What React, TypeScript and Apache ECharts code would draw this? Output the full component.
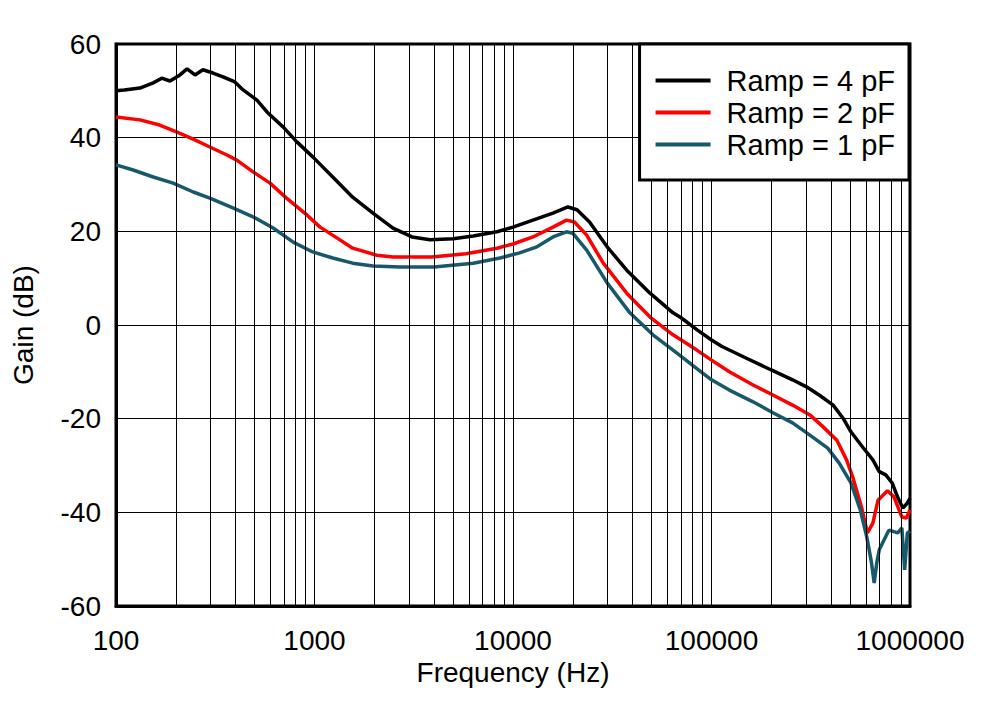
import React, { useEffect, useRef } from "react";
import * as echarts from "echarts";

const FONT = "'Liberation Sans', Arial, sans-serif";

const seriesNames = ["Ramp = 4 pF", "Ramp = 2 pF", "Ramp = 1 pF"];
const seriesColors = ["#000000", "#ff0000", "#17596b"];

const ramp4: [number, number][] = [
  [100, 50.0], [110, 50.2], [132, 50.6], [154, 51.7], [170, 52.7], [187, 52.1],
  [210, 53.4], [228, 54.7], [250, 53.4], [274, 54.5], [308, 53.8], [346, 53.0],
  [397, 51.9], [437, 50.2], [513, 48.0], [576, 45.5], [694, 42.3], [815, 39.1],
  [980, 35.9], [1236, 31.6], [1557, 27.3], [1970, 23.9], [2485, 20.7], [3100, 18.8],
  [3824, 18.2], [5000, 18.4], [6300, 19.0], [8300, 19.9], [10000, 20.9], [12600, 22.4],
  [15900, 23.9], [18900, 25.2], [21000, 24.6], [24300, 22.0], [29800, 16.7],
  [37400, 11.7], [49000, 6.8], [64000, 2.6], [70000, 1.6], [85000, -1.1],
  [100000, -3.2], [113000, -4.6], [150000, -7.1], [200000, -9.6], [256000, -11.7],
  [301000, -13.2], [350000, -15.0], [410000, -17.1], [460000, -19.9], [504000, -22.8],
  [578000, -26.1], [650000, -28.8], [700000, -31.3], [755000, -32.0], [815000, -33.8],
  [867000, -36.8], [920000, -39.1], [970000, -38.0], [1000000, -37.0],
];

const ramp2: [number, number][] = [
  [100, 44.4], [132, 43.8], [166, 42.7], [203, 41.2], [245, 39.7], [297, 38.0],
  [362, 36.3], [406, 35.2], [490, 32.7], [597, 30.3], [723, 27.1], [915, 23.5],
  [1067, 20.9], [1296, 18.6], [1557, 16.4], [2060, 14.9], [2485, 14.5], [3900, 14.5],
  [5800, 15.2], [8300, 16.4], [10000, 17.3], [12600, 18.8], [15900, 20.9], [18600, 22.4],
  [20400, 22.0], [23500, 19.2], [28500, 13.2], [37400, 6.8], [49000, 1.7], [64000, -2.1],
  [84000, -5.3], [100000, -7.5], [123000, -10.0], [162000, -12.8], [205000, -15.0],
  [256000, -17.1], [313000, -19.2], [364000, -21.7], [428000, -24.6], [479000, -28.8],
  [515000, -32.5], [570000, -38.9], [610000, -44.4], [650000, -42.3], [690000, -37.4],
  [770000, -35.4], [830000, -36.7], [910000, -41.0], [960000, -41.2], [1000000, -39.5],
];

const ramp1: [number, number][] = [
  [100, 34.2], [122, 33.1], [154, 31.6], [194, 30.3], [245, 28.4], [297, 27.1],
  [388, 25.0], [490, 23.1], [619, 20.7], [781, 17.7], [980, 15.6], [1236, 14.3],
  [1557, 13.2], [1970, 12.6], [2700, 12.4], [4000, 12.4], [6300, 13.2], [8600, 14.3],
  [10800, 15.4], [13200, 16.7], [15900, 18.8], [18600, 19.9], [20000, 19.6],
  [23500, 16.0], [29800, 9.0], [38800, 2.6], [50700, -2.1], [67000, -6.0],
  [85000, -9.4], [100000, -11.7], [123000, -13.9], [162000, -16.4], [205000, -18.8],
  [256000, -20.9], [313000, -23.5], [385000, -26.3], [440000, -29.5], [504000, -33.7],
  [562000, -39.5], [606000, -45.3], [640000, -50.8], [660000, -55.1], [680000, -50.8],
  [700000, -48.0], [770000, -44.4], [785000, -43.8], [867000, -44.4], [910000, -43.3],
  [940000, -52.3], [970000, -44.4], [1000000, -44.0],
];

const decades = [100, 1000, 10000, 100000];
const minorMultipliers = [2, 3, 4, 5, 6, 7, 8, 9];

export default function App() {
  const ref = useRef<HTMLDivElement>(null);

  useEffect(() => {
    if (!ref.current) return;
    const chart = echarts.init(ref.current, null, { renderer: "svg" });

    const minorLines: { xAxis: number }[] = [];
    decades.forEach((d) => minorMultipliers.forEach((m) => minorLines.push({ xAxis: d * m })));

    const datasets = [ramp4, ramp2, ramp1];

    chart.setOption({
      animation: false,
      backgroundColor: "#ffffff",
      textStyle: { fontFamily: FONT },
      grid: {
        left: 116,
        right: 80,
        top: 44,
        bottom: 95,
        show: true,
        borderColor: "#000",
        borderWidth: 3,
        backgroundColor: "#fff",
      },
      legend: {
        data: seriesNames,
        orient: "vertical",
        right: 81,
        top: 44,
        backgroundColor: "#fff",
        borderColor: "#000",
        borderWidth: 3,
        borderRadius: 0,
        padding: [22, 14, 21, 16],
        icon: "rect",
        itemWidth: 55,
        itemHeight: 4,
        itemGap: 3,
        textStyle: { fontSize: 29, color: "#000", fontFamily: FONT, padding: [0, 0, 0, 11] },
        z: 10,
      },
      xAxis: {
        type: "log",
        logBase: 10,
        min: 100,
        max: 1000000,
        name: "Frequency (Hz)",
        nameLocation: "middle",
        nameGap: 52,
        nameTextStyle: { fontSize: 28, color: "#000", fontFamily: FONT },
        axisLine: { show: true, onZero: false, lineStyle: { color: "#000", width: 3 } },
        axisTick: { show: false },
        axisLabel: {
          fontSize: 28,
          color: "#000",
          margin: 20,
          fontFamily: FONT,
          formatter: (v: number) => String(Math.round(v)),
        },
        splitLine: { show: true, lineStyle: { color: "#000", width: 1 } },
      },
      yAxis: {
        type: "value",
        min: -60,
        max: 60,
        interval: 20,
        name: "Gain (dB)",
        nameLocation: "middle",
        nameGap: 79,
        nameTextStyle: { fontSize: 28, color: "#000", fontFamily: FONT },
        axisLine: { show: true, onZero: false, lineStyle: { color: "#000", width: 3 } },
        axisTick: { show: false },
        axisLabel: { fontSize: 28, color: "#000", margin: 15, fontFamily: FONT },
        splitLine: { show: true, lineStyle: { color: "#000", width: 1 } },
      },
      series: [
        {
          name: "minor-grid",
          type: "line",
          data: [],
          silent: true,
          z: 1,
          markLine: {
            silent: true,
            symbol: ["none", "none"],
            label: { show: false },
            lineStyle: { color: "#000", width: 1, type: "solid" },
            data: minorLines,
          },
        },
        ...seriesNames.map((name, i) => ({
          name,
          type: "line",
          data: datasets[i],
          showSymbol: false,
          symbol: "none",
          z: 3,
          color: seriesColors[i],
          lineStyle: { color: seriesColors[i], width: 3.5 },
        })),
      ],
    });

    return () => chart.dispose();
  }, []);

  return (
    <div
      ref={ref}
      style={{ position: "fixed", left: 0, top: 0, width: 990, height: 701 }}
    />
  );
}
